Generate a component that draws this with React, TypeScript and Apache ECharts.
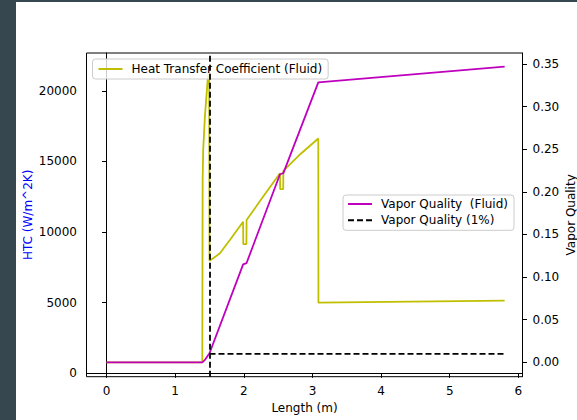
import React, { useEffect, useRef } from "react";
import * as echarts from "echarts";

// ---- data ----
const htcX = [0, 1.395, 1.4, 1.408, 1.433, 1.458, 1.477, 1.495, 1.5, 1.554, 1.652, 1.797, 1.99, 1.992, 2.038, 2.04, 2.28, 2.527, 2.529, 2.574, 2.576, 2.83, 3.085, 3.087, 5.8];
const htcY = [779, 779, 13700, 15800, 18200, 19800, 21000, 21640, 7975, 8144, 8498, 9440, 10736, 9150, 9150, 10860, 12500, 14164, 13050, 13050, 14330, 15550, 16629, 5000, 5141];

const qualityX = [0, 1.395, 1.43, 1.46, 1.5, 1.99, 2.04, 2.527, 2.576, 3.085, 5.8];
const qualityY = [0, 0, 0.0025, 0.006, 0.0106, 0.115, 0.1165, 0.2207, 0.222, 0.3286, 0.3469];

const thresholdX = [1.5, 5.8];
const thresholdY = [0.01, 0.01];
const cutoffLength = 1.5;

const xTicks = [0, 1, 2, 3, 4, 5, 6];
const htcTicks = [0, 5000, 10000, 15000, 20000];
const qualityTicks = [0, 0.05, 0.1, 0.15, 0.2, 0.25, 0.3, 0.35];

const seriesNames = [
  "Heat Transfer Coefficient (Fluid)",
  "Vapor Quality  (Fluid)",
  "Vapor Quality (1%)",
];

const zip = (xs: number[], ys: number[]) => xs.map((x, i) => [x, ys[i]]);

const FONT = "DejaVu Sans";

export default function App() {
  const ref = useRef<HTMLDivElement>(null);
  useEffect(() => {
    if (!ref.current) return;
    const chart = echarts.init(ref.current, null, { renderer: "svg" });
    const axisCommon = {
      axisLine: { show: true, lineStyle: { color: "#000", width: 1 } },
      splitLine: { show: false },
      nameMoveOverlap: false,
    };
    const legendCommon = {
      itemWidth: 24,
      itemHeight: 14,
      selectedMode: false,
      backgroundColor: "rgba(255,255,255,0.8)",
      borderColor: "#cccccc",
      borderWidth: 1,
      borderRadius: 3,
      itemStyle: { opacity: 0 },
      textStyle: { fontSize: 12, fontFamily: FONT, color: "#000", padding: [0, 0, 0, 4] },
    };
    chart.setOption({
      animation: false,
      backgroundColor: "#fff",
      textStyle: { fontFamily: FONT },
      graphic: [
        { type: "rect", shape: { x: 0, y: 0, width: 16, height: 420 }, style: { fill: "#37474f" }, silent: true },
        { type: "rect", shape: { x: 0, y: 0, width: 577, height: 2 }, style: { fill: "#37474f" }, silent: true },
      ],
      grid: {
        left: 86.5,
        right: 54.5,
        top: 53,
        bottom: 43.3,
        outerBoundsMode: "none",
        containLabel: false,
        show: true,
        borderColor: "#000",
        borderWidth: 1,
        backgroundColor: "transparent",
      },
      legend: [
        {
          ...legendCommon,
          data: [seriesNames[0]],
          left: 92.5,
          top: 59,
          orient: "horizontal",
          padding: [4, 6, 4, 5],
        },
        {
          ...legendCommon,
          data: [seriesNames[1], seriesNames[2]],
          left: 343,
          top: 195,
          orient: "vertical",
          padding: [3, 6, 4, 4],
          itemGap: 4.3,
        },
      ],
      xAxis: {
        type: "value",
        min: -0.292,
        max: 6.06,
        ...axisCommon,
        name: "Length (m)",
        nameLocation: "middle",
        nameGap: 25,
        nameTextStyle: { fontSize: 12, fontFamily: FONT, color: "#000" },
        axisTick: { show: true, length: 4.5, customValues: xTicks, lineStyle: { color: "#000" } },
        axisLabel: {
          customValues: xTicks,
          fontSize: 12,
          fontFamily: FONT,
          color: "#000",
          margin: 8,
          formatter: (v: number) => String(v),
        },
      },
      yAxis: [
        {
          type: "value",
          position: "left",
          min: -241,
          max: 22684,
          ...axisCommon,
          name: "HTC (W/m^2K)",
          nameLocation: "middle",
          nameGap: 53,
          nameTextStyle: { fontSize: 12, fontFamily: FONT, color: "#0000ff" },
          axisTick: { show: true, length: 4.5, customValues: htcTicks, lineStyle: { color: "#000" } },
          axisLabel: {
            customValues: htcTicks,
            fontSize: 12,
            fontFamily: FONT,
            color: "#000",
            margin: 9.5,
            formatter: (v: number) => String(v),
          },
        },
        {
          type: "value",
          position: "right",
          min: -0.0169,
          max: 0.363,
          ...axisCommon,
          name: "Vapor Quality",
          nameLocation: "middle",
          nameGap: 42,
          nameTextStyle: { fontSize: 12, fontFamily: FONT, color: "#000" },
          axisTick: { show: true, length: 4.5, customValues: qualityTicks, lineStyle: { color: "#000" } },
          axisLabel: {
            customValues: qualityTicks,
            fontSize: 12,
            fontFamily: FONT,
            color: "#000",
            margin: 10,
            formatter: (v: number) => v.toFixed(2),
          },
        },
      ],
      series: [
        {
          name: seriesNames[0],
          type: "line",
          yAxisIndex: 0,
          data: zip(htcX, htcY),
          symbol: "none",
          showSymbol: false,
          color: "#bfbf00",
          lineStyle: { color: "#bfbf00", width: 1.8 },
        },
        {
          name: seriesNames[1],
          type: "line",
          yAxisIndex: 1,
          data: zip(qualityX, qualityY),
          symbol: "none",
          showSymbol: false,
          color: "#bf00bf",
          lineStyle: { color: "#bf00bf", width: 1.8 },
        },
        {
          name: seriesNames[2],
          type: "line",
          yAxisIndex: 1,
          data: zip(thresholdX, thresholdY),
          symbol: "none",
          showSymbol: false,
          color: "#000",
          lineStyle: { color: "#000", width: 1.8, type: [6, 3] },
          markLine: {
            silent: true,
            symbol: ["none", "none"],
            label: { show: false },
            lineStyle: { color: "#000", width: 1.8, type: [6, 3] },
            data: [{ xAxis: cutoffLength }],
          },
        },
      ],
    });
    return () => chart.dispose();
  }, []);
  return (
    <div
      ref={ref}
      style={{ position: "fixed", left: 0, top: 0, width: 577, height: 420 }}
    />
  );
}
